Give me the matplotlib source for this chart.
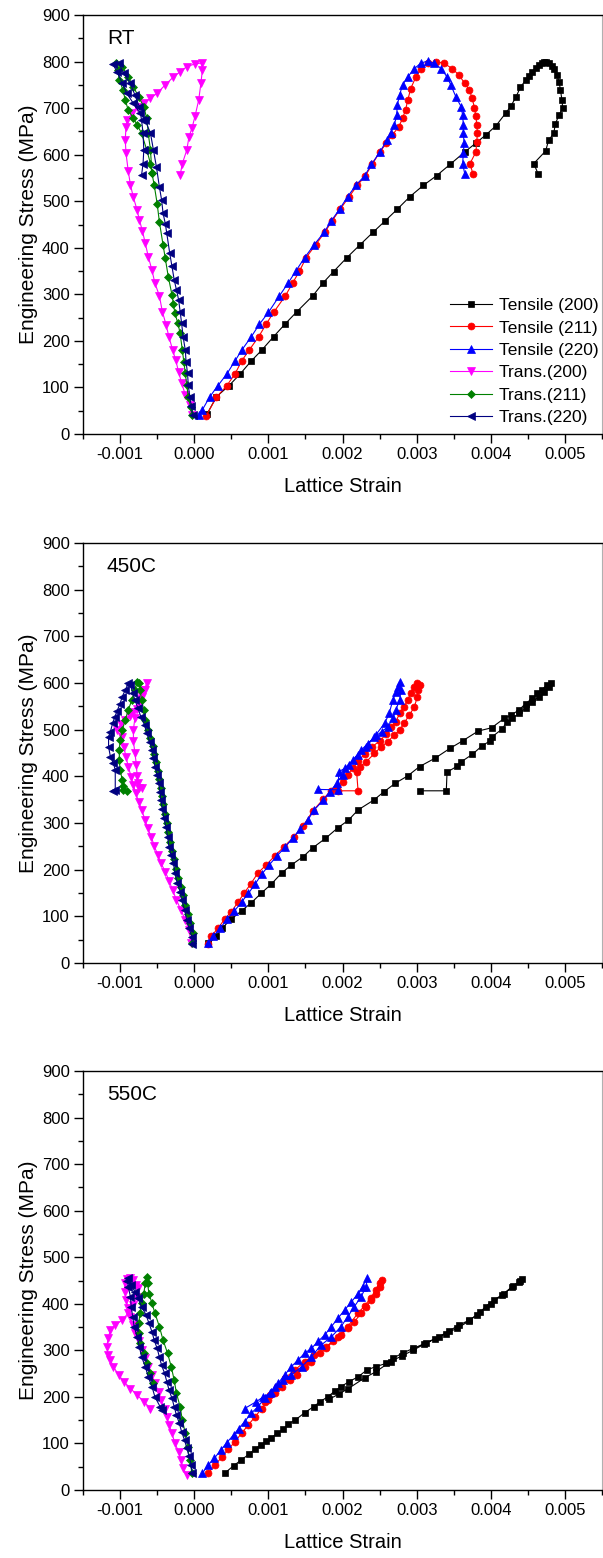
import numpy as np
import matplotlib
matplotlib.use('Agg')
import matplotlib.pyplot as plt
from matplotlib.ticker import MultipleLocator

plt.rcParams['font.family'] = ['Liberation Sans', 'DejaVu Sans']
plt.rcParams['axes.unicode_minus'] = False

### Data (strain in units of 1e-3, stress in MPa)
### ---- RT ----
rt_t200_x = [0.17,0.30,0.47,0.62,0.77,0.91,1.07,1.23,1.38,1.60,1.74,1.88,2.06,2.24,2.41,2.57,2.74,2.91,3.09,
             3.27,3.45,3.65,3.80,3.93,4.07,4.20,4.27,4.34,4.40,4.47,4.52,4.56,4.61,4.65,4.69,4.72,4.75,4.78,4.82,
             4.85,4.89,4.92,4.94,4.96,4.97,4.92,4.87,4.85,4.78,4.74,4.58,4.64]
rt_t200_y = [42,80,104,129,157,180,209,237,262,297,325,349,379,407,433,457,483,510,534,
             555,579,606,625,642,662,689,704,724,745,760,770,778,787,793,797,800,799,796,791,
             785,771,757,739,717,700,685,666,646,631,608,581,558]
rt_t211_x = [0.16,0.30,0.44,0.55,0.64,0.74,0.87,0.97,1.07,1.23,1.33,1.42,1.51,1.64,1.76,1.86,1.97,2.09,2.20,2.31,
             2.40,2.50,2.59,2.67,2.76,2.81,2.85,2.88,2.92,2.99,3.06,3.15,3.26,3.37,3.48,3.57,3.65,3.71,3.75,3.78,
             3.80,3.81,3.82,3.81,3.80,3.72,3.76]
rt_t211_y = [39,79,104,129,157,180,209,236,261,297,325,350,379,407,433,458,483,510,534,555,
             579,605,624,642,660,678,696,717,742,767,785,796,800,796,785,771,753,739,721,700,
             682,664,646,628,606,581,558]
rt_t220_x = [0.07,0.11,0.21,0.32,0.44,0.55,0.64,0.77,0.88,1.00,1.15,1.27,1.37,1.49,1.62,1.75,1.85,1.96,2.07,2.18,
             2.30,2.39,2.50,2.60,2.65,2.70,2.73,2.74,2.77,2.81,2.88,2.97,3.06,3.15,3.24,3.33,3.41,3.46,3.53,3.60,
             3.62,3.63,3.63,3.64,3.63,3.62,3.65]
rt_t220_y = [41,52,80,104,129,157,180,209,236,261,297,325,350,379,407,433,458,483,510,534,
             555,579,605,631,646,664,685,707,728,750,767,785,797,801,796,785,767,750,724,703,
             685,664,646,624,603,581,558]
rt_tr200_x = [-0.03,-0.06,-0.12,-0.17,-0.21,-0.25,-0.29,-0.34,-0.38,-0.43,-0.47,-0.53,-0.57,-0.62,-0.66,-0.70,-0.74,-0.77,
              -0.82,-0.86,-0.89,-0.92,-0.93,-0.92,-0.90,-0.84,-0.77,-0.68,-0.59,-0.50,-0.39,-0.28,-0.19,-0.10,0.01,0.10,
              0.11,0.09,0.06,0.01,-0.03,-0.07,-0.10,-0.16,-0.19]
rt_tr200_y = [41,62,84,110,133,159,180,208,235,263,297,324,352,381,410,437,460,481,
              508,535,565,603,632,660,675,689,703,710,721,732,750,767,778,789,795,797,
              782,753,717,682,657,639,610,581,556]
rt_tr211_x = [-0.03,-0.05,-0.08,-0.10,-0.12,-0.14,-0.16,-0.19,-0.22,-0.26,-0.28,-0.30,-0.35,-0.39,-0.42,-0.47,-0.50,-0.54,
              -0.57,-0.59,-0.64,-0.71,-0.77,-0.82,-0.89,-0.93,-0.96,-1.01,-1.03,-1.05,-0.97,-0.89,-0.82,-0.75,-0.68,
              -0.64,-0.62,-0.59,-0.57]
rt_tr211_y = [41,59,80,105,130,155,180,216,238,259,279,299,338,377,406,456,495,535,
              560,581,610,646,664,678,696,717,739,760,782,796,789,767,746,724,703,
              678,646,610,560]
rt_tr220_x = [-0.02,-0.04,-0.06,-0.08,-0.09,-0.11,-0.12,-0.15,-0.17,-0.19,-0.21,-0.24,-0.27,-0.30,-0.33,-0.37,-0.39,-0.42,
              -0.44,-0.47,-0.51,-0.55,-0.59,-0.66,-0.73,-0.82,-0.91,-0.97,-1.04,-1.10,-1.02,-0.95,-0.86,-0.80,-0.74,
              -0.71,-0.69,-0.68,-0.69,-0.71]
rt_tr220_y = [41,60,80,105,130,155,180,209,238,263,288,310,331,360,388,431,452,474,
              503,531,574,610,646,674,689,710,732,753,778,795,797,775,753,728,703,
              674,646,610,581,556]

### ---- 450C ----
c450_t200_x = [0.19,0.30,0.37,0.50,0.64,0.77,0.90,1.04,1.18,1.31,1.47,1.60,1.77,1.94,2.08,2.21,2.42,2.56,2.71,2.88,
               3.04,3.25,3.45,3.62,3.83,4.01,4.18,4.27,4.38,4.47,4.56,4.63,4.69,4.76,4.81,
               4.78,4.72,4.65,4.56,4.47,4.38,4.29,4.22,4.15,4.02,3.99,3.88,3.75,3.60,3.55,3.41,3.40,3.05]
c450_t200_y = [42,57,74,94,112,129,149,169,193,210,228,247,267,290,306,328,349,367,385,401,
               421,439,460,476,497,504,524,531,542,556,567,578,586,596,601,
               592,581,571,560,546,535,524,517,501,485,476,465,447,431,422,409,369,369]
c450_t211_x = [0.18,0.23,0.32,0.41,0.50,0.59,0.67,0.76,0.86,0.97,1.09,1.21,1.35,1.47,1.60,1.74,1.84,1.92,2.00,2.07,
               2.14,2.21,2.30,2.40,2.50,2.59,2.65,2.72,2.77,2.83,2.88,2.92,2.97,3.01,
               3.04,3.02,3.01,2.97,2.90,2.83,2.77,2.70,2.61,2.52,2.43,2.32,2.23,2.19,2.21,1.94]
c450_t211_y = [41,58,74,94,110,130,149,169,193,210,230,249,271,294,326,351,369,378,388,403,
               418,432,448,463,476,490,505,517,535,549,564,578,592,599,
               596,584,571,549,531,514,499,489,474,463,449,431,421,410,369,369]
c450_t220_x = [0.19,0.26,0.35,0.44,0.54,0.64,0.73,0.82,0.91,1.01,1.12,1.23,1.33,1.43,1.53,1.62,1.74,1.83,1.92,2.00,
               2.09,2.21,2.32,2.45,2.57,2.63,2.68,2.72,2.75,2.77,
               2.79,2.77,2.72,2.68,2.61,2.53,2.43,2.34,2.25,2.14,2.03,1.95,1.94,1.67]
c450_t220_y = [42,58,74,94,111,131,149,169,190,210,230,249,268,287,306,328,349,367,385,403,
               424,446,463,489,514,535,564,580,592,603,
               585,564,542,524,506,496,484,470,456,435,417,410,371,372]
c450_tr200_x = [-0.04,-0.07,-0.12,-0.18,-0.24,-0.29,-0.34,-0.39,-0.45,-0.49,-0.54,-0.58,-0.63,-0.66,-0.71,-0.75,
                -0.79,-0.82,-0.85,-0.89,-0.92,-0.95,-0.98,-1.04,-0.99,-0.93,-0.87,-0.82,-0.75,-0.71,-0.66,-0.64,
                -0.68,-0.73,-0.77,-0.80,-0.82,-0.82,-0.80,-0.78,-0.77,-0.76,-0.75,-0.71]
c450_tr200_y = [42,70,92,114,135,156,176,196,214,231,251,271,289,306,328,346,
                364,381,399,421,442,463,485,499,512,521,530,538,556,571,585,599,
                585,565,545,525,500,475,450,425,400,385,374,374]
c450_tr211_x = [-0.03,-0.02,-0.06,-0.09,-0.12,-0.15,-0.18,-0.22,-0.25,-0.27,-0.30,-0.33,-0.35,-0.37,-0.40,-0.42,
                -0.44,-0.45,-0.47,-0.49,-0.52,-0.54,-0.56,-0.59,-0.62,-0.66,-0.68,-0.71,-0.73,-0.75,-0.77,
                -0.80,-0.84,-0.89,-0.93,-0.97,-1.00,-1.01,-1.01,-1.00,-0.97,-0.96,-0.96,-0.90]
c450_tr211_y = [42,64,85,104,124,145,163,182,202,222,240,259,280,300,320,340,
                358,376,394,412,430,448,465,483,499,521,542,564,585,599,603,
                585,564,542,521,499,478,456,435,414,392,380,371,369]
c450_tr220_x = [-0.03,-0.03,-0.07,-0.10,-0.13,-0.17,-0.19,-0.23,-0.26,-0.28,-0.31,-0.34,-0.36,-0.38,-0.41,-0.43,
                -0.45,-0.46,-0.48,-0.50,-0.53,-0.55,-0.57,-0.60,-0.64,-0.67,-0.72,-0.76,-0.80,-0.83,-0.86,-0.89,
                -0.93,-0.97,-1.00,-1.04,-1.07,-1.10,-1.13,-1.155,-1.155,-1.13,-1.09,-1.065,-1.065,-1.10]
c450_tr220_y = [40,56,74,92,114,135,153,172,192,214,231,249,271,292,310,331,
                349,367,385,403,421,439,456,474,492,510,528,546,564,578,596,599,
                585,571,556,540,528,514,496,485,463,442,428,414,371,369]

### ---- 550C ----
c550_t200_x = [0.41,0.53,0.63,0.74,0.82,0.90,0.97,1.04,1.12,1.20,1.27,1.36,1.49,1.61,1.70,1.80,1.90,1.98,2.09,2.21,
               2.33,2.45,2.59,2.68,2.81,2.95,3.13,3.30,3.44,3.57,3.71,3.82,3.93,4.04,4.18,4.29,4.38,4.42,
               4.40,4.30,4.15,4.00,3.85,3.70,3.55,3.40,3.25,3.10,2.95,2.80,2.65,2.45,2.30,2.08,1.95,1.82]
c550_t200_y = [36,52,64,77,88,97,105,112,122,130,142,150,166,179,190,200,213,222,233,243,
               258,265,272,283,294,304,316,329,342,354,365,376,394,408,422,437,447,453,
               448,438,418,400,382,362,348,336,325,313,300,288,276,254,241,218,206,195]
c550_t211_x = [0.19,0.28,0.37,0.46,0.55,0.64,0.73,0.82,0.91,1.00,1.09,1.19,1.29,1.38,1.49,1.58,1.69,1.78,1.87,1.98,
               2.07,2.16,2.25,2.32,2.39,2.45,2.50,2.53,
               2.50,2.45,2.38,2.30,2.21,2.07,1.94,1.78,1.62,1.49,1.36,1.22,1.11,1.02,0.95]
c550_t211_y = [36,54,70,87,104,122,140,157,175,193,208,222,236,247,265,276,294,304,319,333,
               347,361,380,394,408,422,437,451,
               445,430,412,396,380,351,329,308,290,276,258,240,222,204,188]
c550_t220_x = [0.11,0.19,0.27,0.36,0.44,0.53,0.60,0.68,0.77,0.86,0.95,1.04,1.13,1.22,1.31,1.40,1.49,1.58,1.67,1.76,
               1.85,1.94,2.03,2.12,2.21,2.27,2.33,
               2.32,2.25,2.16,2.07,1.98,1.85,1.71,1.58,1.45,1.31,1.20,1.09,1.02,0.93,0.84,0.68]
c550_t220_y = [36,54,68,86,102,118,132,147,165,179,197,211,229,247,265,279,294,304,319,333,
               351,369,387,404,422,437,455,
               437,415,394,372,351,329,311,286,265,247,236,222,208,200,190,175]
c550_tr200_x = [-0.10,-0.15,-0.18,-0.21,-0.26,-0.30,-0.34,-0.37,-0.40,-0.45,-0.48,-0.53,-0.57,-0.62,-0.66,-0.71,
                -0.75,-0.80,-0.83,-0.86,-0.89,-0.92,-0.94,-0.94,-0.91,-0.86,-0.82,
                -0.78,-0.76,-0.77,-0.82,-0.89,-0.97,-1.07,-1.13,-1.16,-1.18,-1.16,-1.13,-1.09,-1.02,-0.95,-0.86,
                -0.77,-0.68,-0.59]
c550_tr200_y = [32,47,64,82,100,122,140,157,175,193,211,229,247,265,283,301,
                319,337,354,372,390,408,426,444,453,455,452,
                440,433,415,397,380,365,354,344,326,308,290,279,265,247,233,218,
                204,190,175]
c550_tr211_x = [-0.03,-0.06,-0.09,-0.12,-0.16,-0.19,-0.24,-0.27,-0.31,-0.36,-0.42,-0.47,-0.53,-0.57,-0.61,-0.63,-0.64,
                -0.66,-0.68,-0.71,-0.73,-0.75,-0.75,-0.73,-0.68,-0.64,-0.59,-0.55]
c550_tr211_y = [36,64,93,122,150,179,208,236,265,294,322,351,380,401,422,444,458,
                444,422,401,380,358,337,315,294,272,251,230]
c550_tr220_x = [-0.03,-0.04,-0.07,-0.10,-0.13,-0.17,-0.20,-0.24,-0.27,-0.30,-0.34,-0.37,-0.40,-0.44,-0.47,-0.50,
                -0.54,-0.57,-0.61,-0.65,-0.71,-0.76,-0.80,-0.85,-0.89,
                -0.90,-0.89,-0.86,-0.85,-0.83,-0.81,-0.77,-0.74,-0.71,-0.66,-0.62,-0.57,-0.53,-0.46,-0.44]
c550_tr220_y = [36,54,72,90,107,125,143,161,179,197,215,233,251,268,286,304,
                322,340,358,376,394,412,426,440,455,
                450,437,415,394,372,351,329,308,286,265,243,222,200,179,172]

names = ['Tensile (200)', 'Tensile (211)', 'Tensile (220)', 'Trans.(200)', 'Trans.(211)', 'Trans.(220)']
colors = ['#000000', '#ff0000', '#0000ff', '#ff00ff', '#008000', '#000080']
markers = ['s', 'o', '^', 'v', 'D', '<']
msizes = [4.5, 5.0, 5.2, 5.2, 4.1, 5.2]

panels = [
    ('RT', [(rt_t200_x, rt_t200_y), (rt_t211_x, rt_t211_y), (rt_t220_x, rt_t220_y),
            (rt_tr200_x, rt_tr200_y), (rt_tr211_x, rt_tr211_y), (rt_tr220_x, rt_tr220_y)]),
    ('450C', [(c450_t200_x, c450_t200_y), (c450_t211_x, c450_t211_y), (c450_t220_x, c450_t220_y),
              (c450_tr200_x, c450_tr200_y), (c450_tr211_x, c450_tr211_y), (c450_tr220_x, c450_tr220_y)]),
    ('550C', [(c550_t200_x, c550_t200_y), (c550_t211_x, c550_t211_y), (c550_t220_x, c550_t220_y),
              (c550_tr200_x, c550_tr200_y), (c550_tr211_x, c550_tr211_y), (c550_tr220_x, c550_tr220_y)]),
]

### axes boxes in figure fractions (603 x 1558 px)
W, H = 603.0, 1558.0
boxes = [(15, 434), (543, 963), (1071, 1490)]
xticks = [-0.001, 0.000, 0.001, 0.002, 0.003, 0.004, 0.005]

fig = plt.figure(figsize=(W / 100, H / 100), dpi=100)
for k, (title, series) in enumerate(panels):
    top, bot = boxes[k]
    ax = fig.add_axes([83 / W, 1 - bot / H, 519 / W, (bot - top) / H])
    for i, (xs, ys) in enumerate(series):
        ax.plot(np.array(xs) * 1e-3, ys, color=colors[i], marker=markers[i], ms=msizes[i],
                lw=0.8, mec=colors[i], mew=0.5, label=names[i])
    ax.set_xlim(-0.0015, 0.0055)
    ax.set_ylim(0, 900)
    ax.set_xticks(xticks)
    ax.set_xticklabels(['%.3f' % t for t in xticks])
    ax.set_yticks(range(0, 901, 100))
    ax.xaxis.set_minor_locator(MultipleLocator(0.0005))
    ax.yaxis.set_minor_locator(MultipleLocator(50))
    ax.tick_params(which='major', direction='out', length=6.5, width=1, labelsize=12, pad=3)
    ax.tick_params(which='minor', direction='out', length=3.3, width=1)
    ax.tick_params(top=False, right=False, which='both')
    for s in ['left', 'bottom', 'top']:
        ax.spines[s].set_linewidth(1.0)
    ax.spines['right'].set_color('#b0b0b0')
    ax.spines['right'].set_linewidth(0.8)
    ax.set_xlabel('Lattice Strain', fontsize=14.5, labelpad=11)
    ax.set_ylabel('Engineering Stress (MPa)', fontsize=15, labelpad=3)
    ax.text(0.046, 0.945, title, transform=ax.transAxes, fontsize=15, va='center', ha='left')
    if k == 0:
        ax.legend(loc='lower right', bbox_to_anchor=(1.01, 0.0), frameon=False, fontsize=12.5,
                  handlelength=2.4, labelspacing=0.42, handletextpad=0.4, borderaxespad=0.1)

plt.savefig('out.png', dpi=100)
